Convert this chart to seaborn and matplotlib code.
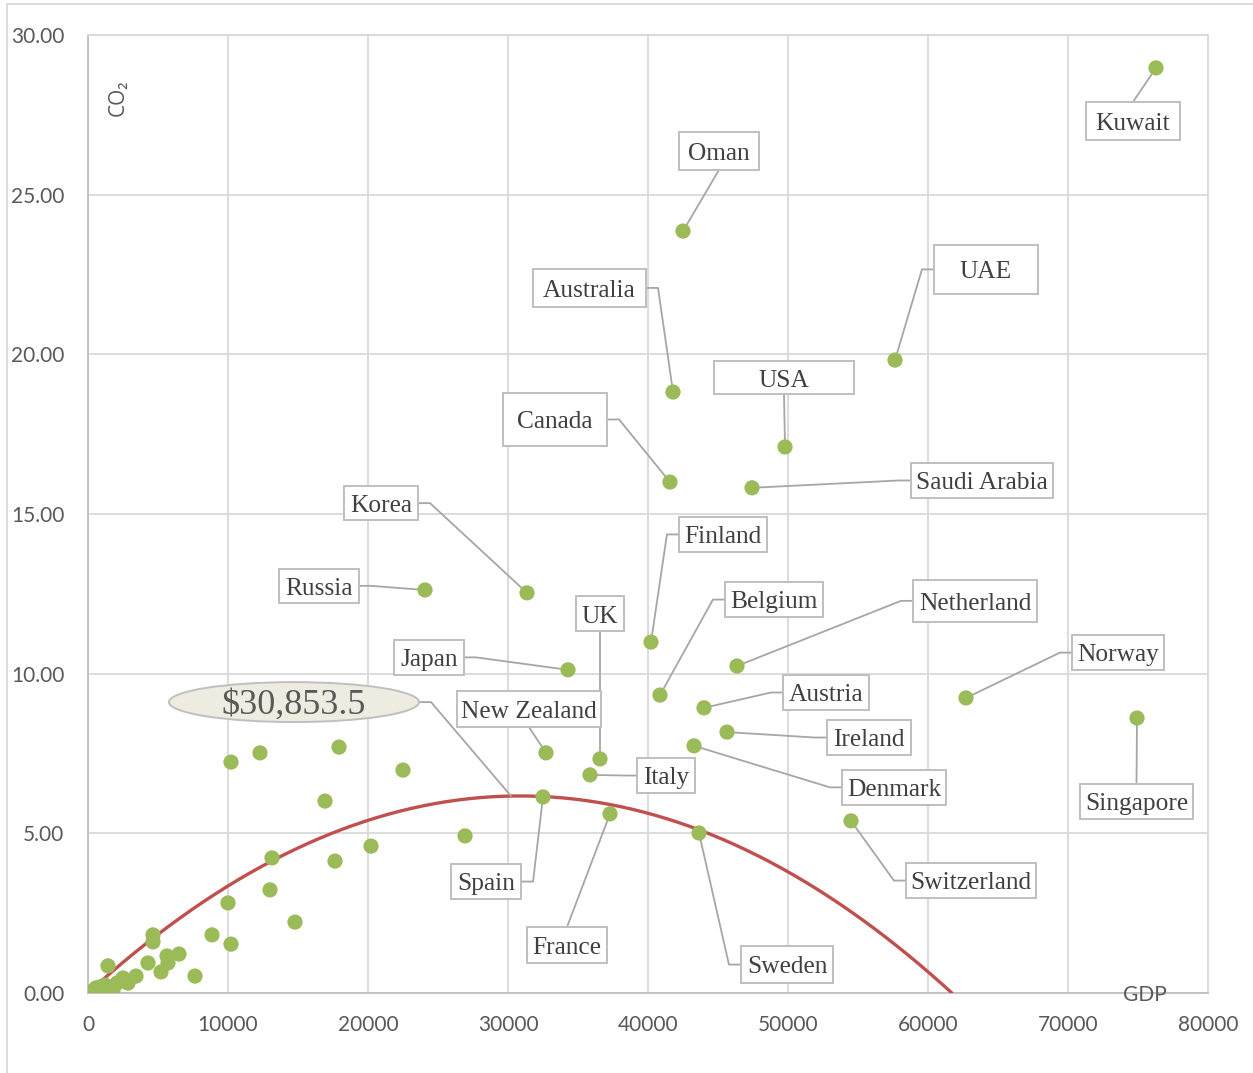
import numpy as np
import pandas as pd
import matplotlib
matplotlib.use("Agg")
import matplotlib.pyplot as plt
from matplotlib.patches import Rectangle, Ellipse
import seaborn as sns

# --- datos: paises etiquetados ---
countries = ["Kuwait", "Oman", "UAE", "Australia", "USA", "Canada", "Saudi Arabia",
             "Korea", "Russia", "Finland", "UK", "Belgium", "Netherland", "Japan",
             "Norway", "Austria", "New Zealand", "Ireland", "Italy", "Denmark",
             "Singapore", "Switzerland", "Spain", "France", "Sweden"]
gdp = [76286, 42500, 57643, 41786, 49786, 41571, 47429,
       31357, 24071, 40214, 36571, 40857, 46357, 34286,
       62714, 44000, 32714, 45643, 35857, 43286,
       74929, 54500, 32500, 37286, 43643]
co2 = [28.97, 23.86, 19.82, 18.82, 17.10, 16.00, 15.82,
       12.53, 12.62, 10.99, 7.33, 9.33, 10.24, 10.12,
       9.24, 8.93, 7.52, 8.17, 6.83, 7.74,
       8.61, 5.39, 6.14, 5.61, 5.01]

# --- datos: resto de paises sin etiqueta ---
other_gdp = [10214, 12286, 17929, 22500, 16929, 26929, 13143, 17643, 20214,
             13000, 10000, 14786, 10214, 8857, 4643, 4643, 6500, 5643, 5714,
             4286, 5214, 7643, 3429, 1429, 2500, 2071, 857, 571, 1571, 1786,
             1214, 2857, 400]
other_co2 = [7.23, 7.52, 7.70, 6.98, 6.01, 4.92, 4.23, 4.13, 4.60,
             3.23, 2.82, 2.22, 1.53, 1.82, 1.82, 1.60, 1.22, 1.16, 0.94,
             0.94, 0.66, 0.53, 0.53, 0.85, 0.47, 0.31, 0.19, 0.16, 0.16, 0.09,
             0.25, 0.31, 0.08]

# tendencia polinomica de orden 2 (coeficientes)
trend_a = -6.4823e-9
trend_b = 4.0e-4
trend_c = 0.0
vertex_label = "$30,853.5"

# cajas de etiquetas: centro x, centro y, ancho, alto (unidades de datos) y lado del conector
label_boxes = {
    "Kuwait": (74643, 27.31, 6714, 1.19, "top"),
    "Oman": (45071, 26.37, 5714, 1.19, "bottom"),
    "UAE": (64143, 22.66, 7429, 1.53, "left"),
    "Australia": (35821, 22.08, 8071, 1.19, "right"),
    "USA": (49714, 19.27, 10000, 1.03, "bottom"),
    "Canada": (33357, 17.96, 7429, 1.66, "right"),
    "Saudi Arabia": (63857, 16.05, 10143, 1.10, "left"),
    "Korea": (20929, 15.34, 5286, 1.06, "right"),
    "Russia": (16500, 12.75, 5714, 1.06, "right"),
    "Finland": (45357, 14.36, 6286, 1.10, "left"),
    "UK": (36571, 11.88, 3429, 1.10, "bottom"),
    "Belgium": (49000, 12.32, 7000, 1.10, "left"),
    "Netherland": (63357, 12.28, 8857, 1.32, "left"),
    "Japan": (24357, 10.51, 5000, 1.10, "right"),
    "Norway": (73571, 10.66, 6571, 1.10, "left"),
    "Austria": (52714, 9.41, 6143, 1.10, "left"),
    "New Zealand": (31500, 8.89, 10286, 1.13, "bottom"),
    "Ireland": (55786, 8.00, 6000, 1.10, "left"),
    "Italy": (41286, 6.81, 4143, 1.10, "left"),
    "Denmark": (57571, 6.44, 7429, 1.10, "left"),
    "Singapore": (74893, 6.00, 8071, 1.10, "top"),
    "Switzerland": (63071, 3.52, 9286, 1.10, "left"),
    "Spain": (28429, 3.49, 5000, 1.10, "right"),
    "France": (34214, 1.50, 5714, 1.13, "top"),
    "Sweden": (49929, 0.89, 6571, 1.16, "left"),
}
STUB = 860
TEXT_DROP = 0.09  # el texto queda un poco bajo el centro de la caja

df = pd.DataFrame({"GDP": gdp + other_gdp, "CO2": co2 + other_co2})

root = (-trend_b - np.sqrt(trend_b ** 2 - 4 * trend_a * trend_c)) / (2 * trend_a)
xs = np.linspace(0, root, 300)
trend = pd.DataFrame({"GDP": xs, "CO2": trend_a * xs ** 2 + trend_b * xs + trend_c})

sns.set_style("whitegrid")
plt.rcParams["font.family"] = ["Lato", "DejaVu Sans"]

fig = plt.figure(figsize=(12.53, 10.73), dpi=100)
ax = fig.add_axes([88 / 1253, 80 / 1073, 1120 / 1253, 958 / 1073])

sns.scatterplot(data=df, x="GDP", y="CO2", ax=ax, color="#9BBB59", s=120,
                edgecolor="none", zorder=4)
sns.lineplot(data=trend, x="GDP", y="CO2", ax=ax, color="#C0504D", lw=2.4,
             zorder=3)

ax.set_xlim(0, 80000)
ax.set_ylim(0, 30)
ax.set_xticks(range(0, 80001, 10000))
ax.set_yticks(np.arange(0, 30.1, 5))
ax.set_xticklabels([f"{v:d}" for v in range(0, 80001, 10000)])
ax.set_yticklabels([f"{v:.2f}" for v in np.arange(0, 30.1, 5)])
ax.tick_params(axis="both", length=0, labelsize=15, labelcolor="#595959")
ax.tick_params(axis="y", pad=17)
ax.tick_params(axis="x", pad=16)
ax.grid(True, color="#D9D9D9", lw=1.3)
for sp in ax.spines.values():
    sp.set_color("#D9D9D9")
    sp.set_linewidth(1.3)
ax.spines["bottom"].set_color("#BFBFBF")
ax.spines["left"].set_color("#BFBFBF")
ax.set_xlabel("")
ax.set_ylabel("")

ax.text(2143, 28.03, "CO₂", rotation=90, ha="center", va="center", fontsize=15,
        color="#595959", family=["Open Sans", "DejaVu Sans"])
ax.text(75500, -0.05, "GDP", ha="center", va="center", fontsize=15, color="#595959",
        zorder=6)

# cajas de etiquetas con conectores
serif = "Liberation Serif"
for name, x, y in zip(countries, gdp, co2):
    cx, cy, w, h, side = label_boxes[name]
    if side == "left":
        path = [(cx - w / 2, cy), (cx - w / 2 - STUB, cy), (x, y)]
    elif side == "right":
        path = [(cx + w / 2, cy), (cx + w / 2 + STUB, cy), (x, y)]
    elif side == "top":
        path = [(cx, cy + h / 2), (x, y)]
    else:
        path = [(cx, cy - h / 2), (x, y)]
    px, py = zip(*path)
    ax.plot(px, py, color="#A6A6A6", lw=1.3, zorder=3.5)
    ax.add_patch(Rectangle((cx - w / 2, cy - h / 2), w, h, facecolor="white",
                           edgecolor="#BFBFBF", lw=1.4, zorder=5))
    ax.text(cx, cy - TEXT_DROP, name, ha="center", va="center", fontsize=18.3,
            family=serif, color="#404040", zorder=6)

# etiqueta del vertice de la tendencia
ex, ey, ew, eh = 14714, 9.11, 17857, 1.25
tx = 30214
ty = trend_a * tx ** 2 + trend_b * tx + trend_c
ax.plot([ex + ew / 2, ex + ew / 2 + STUB, tx], [ey, ey, ty], color="#A6A6A6",
        lw=1.3, zorder=3.5)
ax.add_patch(Ellipse((ex, ey), ew, eh, facecolor="#EEECE1", edgecolor="#BFBFBF",
                     lw=1.4, zorder=5))
ax.text(ex, ey - TEXT_DROP, vertex_label, ha="center", va="center", fontsize=26,
        family=serif, color="#595959", zorder=6)

# marco exterior del grafico
fig.patches.append(Rectangle((7 / 1253, -0.01), 1.02, 1 - 4 / 1073 + 0.01,
                             transform=fig.transFigure, fill=False,
                             edgecolor="#D9D9D9", lw=1.3))

fig.savefig("out.png", dpi=100)
